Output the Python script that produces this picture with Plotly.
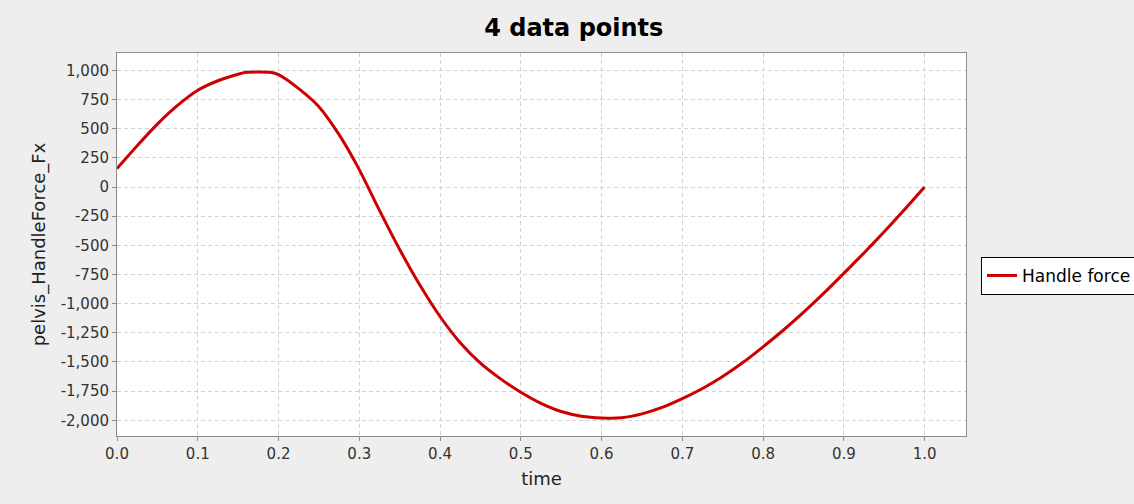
import plotly.graph_objects as go

# ---- data ----
time = [0.0, 0.025, 0.05, 0.075, 0.10, 0.125, 0.15, 0.16, 0.175, 0.19, 0.20,
        0.225, 0.25, 0.275, 0.30, 0.325, 0.35, 0.375, 0.40, 0.425, 0.45, 0.475,
        0.50, 0.525, 0.55, 0.575, 0.60, 0.625, 0.65, 0.675, 0.70, 0.725, 0.75,
        0.775, 0.80, 0.825, 0.85, 0.875, 0.90, 0.925, 0.95, 0.975, 1.0]
handle_force = [160, 355, 540, 700, 830, 912, 968, 985, 988, 985, 965,
                845, 690, 450, 150, -200, -535, -840, -1110, -1335, -1510, -1645,
                -1760, -1855, -1925, -1965, -1980, -1978, -1945, -1890, -1815, -1728, -1625,
                -1505, -1370, -1228, -1075, -912, -740, -565, -383, -195, 0]

series_name = "Handle force"
chart_title = "4 data points"
x_label = "time"
y_label = "pelvis_HandleForce_Fx"

x_tick_vals = [0.0, 0.1, 0.2, 0.3, 0.4, 0.5, 0.6, 0.7, 0.8, 0.9, 1.0]
x_tick_text = ["0.0", "0.1", "0.2", "0.3", "0.4", "0.5", "0.6", "0.7", "0.8", "0.9", "1.0"]
y_tick_vals = [1000, 750, 500, 250, 0, -250, -500, -750, -1000, -1250, -1500, -1750, -2000]
y_tick_text = ["1,000", "750", "500", "250", "0", "-250", "-500", "-750", "-1,000",
               "-1,250", "-1,500", "-1,750", "-2,000"]

FONT = "DejaVu Sans, Lato, sans-serif"
GRID = "#d2d2d2"
AXIS = "#8c8c8c"

fig = go.Figure()
fig.add_trace(go.Scatter(
    x=time, y=handle_force, mode="lines", name=series_name,
    line=dict(color="#cc0000", width=3, shape="spline", smoothing=0.6),
))

fig.update_layout(
    width=1134, height=504, autosize=False,
    paper_bgcolor="#eeeeee", plot_bgcolor="#ffffff",
    margin=dict(l=117, r=168, t=53, b=68, autoexpand=False),
    font=dict(family=FONT, size=15, color="#222222"),
    title=dict(text="<b>" + chart_title + "</b>", x=0.506, xref="container", xanchor="center",
               y=1 - 28 / 504, yref="container", yanchor="middle",
               font=dict(family=FONT, size=24, color="#000000")),
    showlegend=True,
    legend=dict(x=1.0177, xanchor="left", y=0.418, yanchor="middle",
                bgcolor="#ffffff", bordercolor="#000000", borderwidth=1,
                font=dict(family=FONT, size=17, color="#000000"),
                itemwidth=30, tracegroupgap=0),
)

fig.update_xaxes(
    range=[0, 1.0513], tickvals=x_tick_vals, ticktext=x_tick_text,
    showgrid=True, gridcolor=GRID, griddash="4px,3px", gridwidth=1,
    showline=True, linecolor=AXIS, linewidth=1, mirror=True,
    ticks="outside", ticklen=4, tickcolor=AXIS, zeroline=False,
    tickfont=dict(family=FONT, size=15, color="#333333"),
    title=dict(text=x_label, standoff=10, font=dict(family=FONT, size=18, color="#222222")),
)
fig.update_yaxes(
    range=[-2135, 1150], tickvals=y_tick_vals, ticktext=y_tick_text,
    showgrid=True, gridcolor=GRID, griddash="4px,3px", gridwidth=1,
    showline=True, linecolor=AXIS, linewidth=1, mirror=True,
    ticks="outside", ticklen=4, tickcolor=AXIS, zeroline=False,
    tickfont=dict(family=FONT, size=15, color="#333333"),
    title=dict(text=y_label, standoff=10, font=dict(family=FONT, size=18, color="#222222")),
)

fig.write_html(
    "out.html",
    config={"responsive": False, "displayModeBar": False},
    post_script="document.body.style.margin='0px';document.body.style.overflow='hidden';",
)
